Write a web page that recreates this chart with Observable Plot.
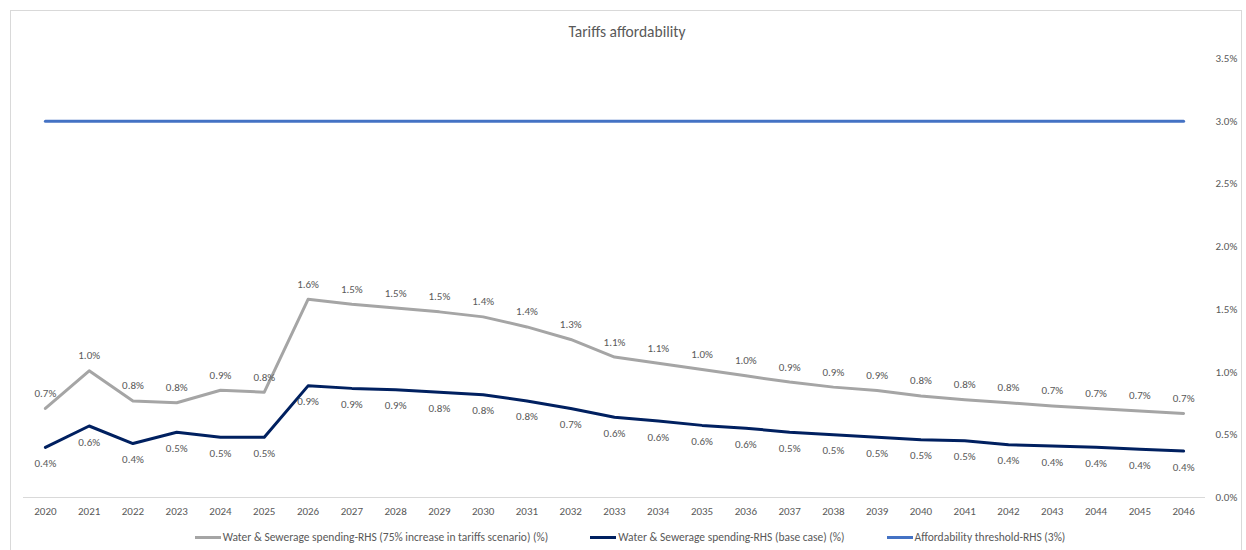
<!DOCTYPE html>
<html>
<head>
<meta charset="utf-8">
<script src="https://cdn.jsdelivr.net/npm/d3@7"></script>
<script src="https://cdn.jsdelivr.net/npm/@observablehq/plot@0.6"></script>
<style>
  body { margin: 0; background: #fff; }
  #wrap { position: relative; width: 1246px; height: 550px; overflow: hidden; font-family: Carlito, Calibri, "Open Sans", sans-serif; color: #595959; }
  #frame { position: absolute; left: 10px; top: 10px; width: 1232px; height: 560px; border: 1px solid #d9d9d9; box-sizing: border-box; }
  #title { position: absolute; top: 22px; left: 0; width: 1254px; text-align: center; font-size: 15.5px; color: #595959; }
  #chart { position: absolute; left: 0; top: 0; }
  #legend { position: absolute; top: 530px; left: 0; width: 1260px; display: flex; justify-content: center; font-size: 11.5px; color: #595959; }
  .item { display: flex; align-items: center; margin: 0 21px; white-space: nowrap; }
  .sw { width: 26px; height: 3px; margin-right: 2px; }
</style>
</head>
<body>
<div id="wrap">
  <div id="frame"></div>
  <div id="chart"></div>
  <div id="title">Tariffs affordability</div>
  <div id="legend"></div>
</div>
<script>
const years = [2020,2021,2022,2023,2024,2025,2026,2027,2028,2029,2030,2031,2032,2033,2034,2035,2036,2037,2038,2039,2040,2041,2042,2043,2044,2045,2046];
const scenario75 = [0.71,1.01,0.77,0.755,0.855,0.84,1.58,1.54,1.51,1.48,1.44,1.36,1.26,1.12,1.07,1.02,0.97,0.92,0.88,0.853,0.81,0.78,0.755,0.73,0.71,0.69,0.67];
const baseCase = [0.40,0.57,0.43,0.52,0.48,0.48,0.89,0.87,0.86,0.84,0.82,0.77,0.71,0.64,0.61,0.575,0.553,0.52,0.50,0.48,0.46,0.452,0.42,0.41,0.40,0.385,0.37];
const threshold = 3.0;
const yTicks = [0,0.5,1,1.5,2,2.5,3,3.5];
const seriesNames = ["Water & Sewerage spending-RHS (75% increase in tariffs scenario) (%)","Water & Sewerage spending-RHS (base case) (%)","Affordability threshold-RHS (3%)"];
const colors = ["#a5a5a5","#002060","#4472c4"];

const dScen = years.map((y,i)=>({year:y, v:scenario75[i]}));
const dBase = years.map((y,i)=>({year:y, v:baseCase[i]}));
const dThr = years.map(y=>({year:y, v:threshold}));
const fmt = v => d3.format(".1f")(v) + "%";
const font = 'Carlito, Calibri, "Open Sans", sans-serif';

const chart = Plot.plot({
  width: 1246, height: 550,
  marginLeft: 23, marginRight: 41, marginTop: 58, marginBottom: 53,
  style: {fontFamily: font, fontSize: "11px", color: "#595959", background: "transparent"},
  x: {type: "linear", domain: [years[0] - 0.5, years[years.length - 1] + 0.5], label: null},
  y: {domain: [0, 3.5], label: null},
  marks: [
    Plot.ruleY([0], {stroke: "#d9d9d9", strokeWidth: 1}),
    Plot.axisX({ticks: years, tickFormat: d => String(d), tickSize: 0, tickPadding: 10, fill: "#595959", fontSize: 11}),
    Plot.axisY({anchor: "right", ticks: yTicks, tickSize: 0, tickPadding: 10, tickFormat: fmt, fill: "#595959", fontSize: 11}),
    Plot.line(dThr, {x: "year", y: "v", stroke: colors[2], strokeWidth: 3}),
    Plot.line(dScen, {x: "year", y: "v", stroke: colors[0], strokeWidth: 3}),
    Plot.line(dBase, {x: "year", y: "v", stroke: colors[1], strokeWidth: 3}),
    Plot.text(dScen, {x: "year", y: "v", text: d => fmt(d.v), dy: -15, fill: "#595959", fontSize: 11}),
    Plot.text(dBase, {x: "year", y: "v", text: d => fmt(d.v), dy: 16, fill: "#595959", fontSize: 11})
  ]
});
document.getElementById("chart").appendChild(chart);

const legend = document.getElementById("legend");
seriesNames.forEach((n,i)=>{
  const it = document.createElement("div"); it.className = "item";
  const sw = document.createElement("div"); sw.className = "sw"; sw.style.background = colors[i];
  const t = document.createElement("span"); t.textContent = n;
  it.appendChild(sw); it.appendChild(t); legend.appendChild(it);
});
</script>
</body>
</html>
